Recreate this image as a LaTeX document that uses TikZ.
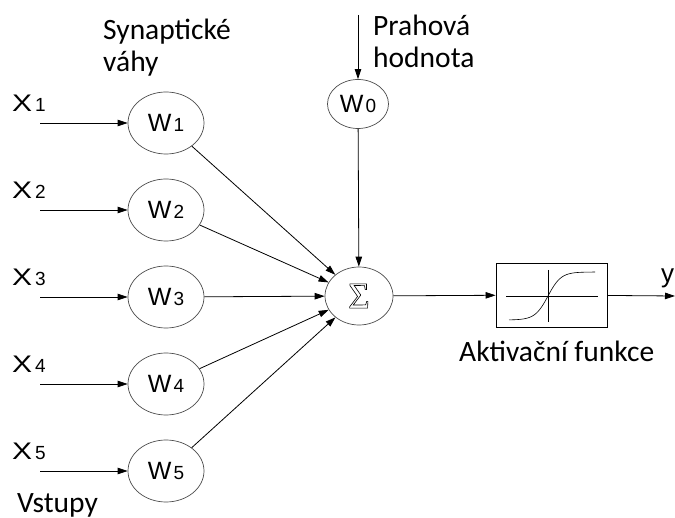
\documentclass[tikz,border=0pt]{standalone}
\usepackage{fontspec}
\setmainfont{Carlito}
\newfontfamily\arialf{Liberation Sans}
\newfontfamily\sigf{Liberation Serif}
\usetikzlibrary{shapes.geometric,arrows.meta}
\newcommand{\lbl}[2]{{\arialf\fontsize{25}{25}\selectfont #1\hspace{2pt}{\fontsize{19}{19}\selectfont #2}}}
\newcommand{\xlbl}[1]{{\arialf\fontsize{24}{24}\selectfont \scalebox{1.25}[1]{X}\hspace{3pt}{\fontsize{19}{19}\selectfont #1}}}
\begin{document}
\begin{tikzpicture}[x=1pt,y=-1pt,
  wnode/.style={ellipse, draw=black!70, line width=0.7pt, minimum width=76pt, minimum height=62pt, inner sep=0pt},
  arr/.style={-{Triangle[length=10pt,width=6.5pt]}, line width=0.8pt},
  txt/.style={font=\fontsize{29.5}{32.5}\selectfont, align=left, inner sep=0pt, anchor=base west},
  xl/.style={inner sep=0pt, anchor=base west}]
\useasboundingbox (0,0) rectangle (675,518);
\fill[white] (0,0) rectangle (675,518);
% weight nodes
\foreach \i/\y in {1/123,2/210,3/297,4/384,5/471}{
  \node[wnode] (w\i) at (166,\y) {\lbl{W}{\i}};
  \coordinate (xs\i) at (40,\y);
  \node[xl] (xl\i) at (12,\y-11) {\xlbl{\i}};
  \draw[arr] (xs\i) -- (w\i);
}
\node[wnode, minimum width=61pt, minimum height=49pt] (w0) at (358,104) {\lbl{W}{0}};
\node[ellipse, draw=black!70, line width=0.7pt, minimum width=68pt, minimum height=58pt, inner sep=0pt] (sum) at (359,296) {\sigf\fontsize{37}{37}\selectfont\special{pdf:literal direct 1 Tr 0.6 w}Σ\special{pdf:literal direct 0 Tr}};
\coordinate (thr) at (358,15);
\draw[arr] (thr) -- (w0);
\draw[arr] (w0) -- (sum);
\foreach \i in {1,...,5}{\draw[arr] (w\i) -- (sum);}
% activation box
\node[draw, line width=0.8pt, minimum width=111pt, minimum height=64pt, inner sep=0pt] (act) at (551.5,295) {};
\draw[line width=0.6pt] (506,296) -- (598,296);
\draw[line width=0.6pt] (548,270) -- (548,322);
\draw[line width=0.6pt, domain=509:595, samples=60, smooth] plot (\x,{296-24*tanh((\x-548)/13)});
\draw[arr] (sum) -- (act);
\coordinate (out) at (675,296);
\draw[arr] (act) -- (out);
\node[xl] (ylab) at (661,283) {\arialf\fontsize{26}{26}\selectfont y};
% texts
\node[txt] (syn) at (103,72) {Synaptické\\váhy};
\node[txt] (prah) at (373,68) {Prahová\\hodnota};
\node[txt] (akt) at (459,362) {Aktivační funkce};
\node[txt] (vst) at (17,512) {Vstupy};
\end{tikzpicture}
\end{document}
